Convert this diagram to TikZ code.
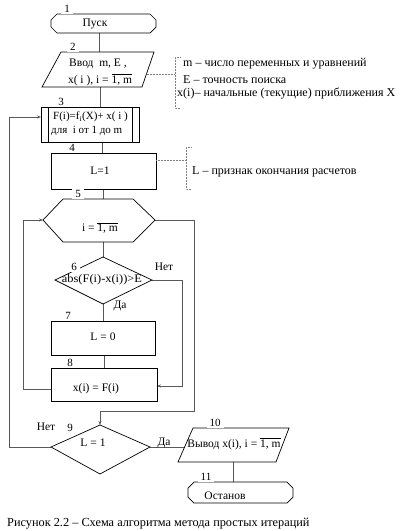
\documentclass[tikz,border=0pt]{standalone}
\usepackage{fontspec}
\setmainfont{Liberation Serif}
\usetikzlibrary{arrows.meta}
\begin{document}
\begin{tikzpicture}[x=1pt,y=-1pt,
  blk/.style={draw=black,line width=0.7pt},
  conn/.style={draw=black!65,line width=0.6pt},
  arr/.style={-{Stealth[length=4pt,width=3pt]}},
  note/.style={draw=black!50,line width=0.5pt,densely dotted},
  num/.style={fill=white,inner xsep=3pt,inner ysep=1.5pt,anchor=base,font=\fontsize{11}{12}\selectfont},
  txt/.style={inner sep=0pt,font=\fontsize{11.5}{13}\selectfont},
  ann/.style={inner sep=0pt,anchor=west,font=\fontsize{12}{14}\selectfont}]
\useasboundingbox (0,0) rectangle (405,531);
\fill[white] (0,0) rectangle (405,531);

% coordinates for connectors
\coordinate (b1s) at (99,33);   \coordinate (b2n) at (99,52);
\coordinate (b2s) at (100,87);  \coordinate (b3n) at (100,107);
\coordinate (b3s) at (102,142); \coordinate (b4n) at (102,153);
\coordinate (b4s) at (103,189); \coordinate (b5n) at (103,199);
\coordinate (b5s) at (103,242); \coordinate (b6n) at (103,257);
\coordinate (b6s) at (103,304); \coordinate (b7n) at (103,321);
\coordinate (b7s) at (104,355); \coordinate (b8n) at (104,368);
\coordinate (b8w) at (51,389);  \coordinate (b8e) at (157,386);
\coordinate (b5w) at (43,220);  \coordinate (b5e) at (155,220);
\coordinate (b6e) at (152,280);
\coordinate (b9n) at (100,425); \coordinate (b9w) at (51,447); \coordinate (b9e) at (150,447);
\coordinate (b3w) at (41,117);
\coordinate (b10w) at (184.6,447); \coordinate (b10s) at (233,462); \coordinate (b11n) at (233,482);
\coordinate (b2e) at (146.5,74); \coordinate (b4e) at (156,160);

% connectors
\draw[conn] (b1s) -- (b2n);
\draw[conn] (b2s) -- (b3n);
\draw[conn] (b3s) -- (b4n);
\draw[conn] (b4s) -- (b5n);
\draw[conn] (b5s) -- (b6n);
\draw[conn] (b6s) -- (b7n);
\draw[conn] (b7s) -- (b8n);
\draw[conn,arr] (b8w) -- (23,389) -- (23,220) -- (b5w);
\draw[conn,arr] (b5e) -- (194,220) -- (194,411) -- (100,411) -- (b9n);
\draw[conn,arr] (b6e) -- (182,280) -- (182,386) -- (b8e);
\draw[conn,arr] (b9w) -- (9,447) -- (9,117) -- (b3w);
\draw[conn] (b9e) -- (b10w);
\draw[conn] (b10s) -- (b11n);

% block 1
\draw[blk] (57,14) -- (150,14) -- (156,20) -- (156,27) -- (150,33) -- (57,33) -- (51,27) -- (51,20) -- cycle;
\node[txt] (t1) at (95,24) {Пуск};
\node[num] (n1) at (67,12.5) {1};
% block 2
\draw[blk] (61,52) -- (154,52) -- (142,87) -- (42,87) -- cycle;
\node[txt] (t2a) at (98,64) {Ввод\ \ m, E ,};
\node[txt] (t2b) at (100,80) {x( i ), i = $\overline{\mbox{1, m}}$};
\node[num] (n2) at (73,50.5) {2};
% block 3
\draw[blk] (41,107) rectangle (139,142);
\draw[blk] (48,107) -- (48,142);
\draw[blk] (132,107) -- (132,142);
\node[txt,anchor=west,font=\fontsize{11}{13}\selectfont] (t3a) at (53,117) {F(i)=f\textsubscript{i}(X)+ x( i )};
\node[txt,anchor=west,font=\fontsize{11}{13}\selectfont] (t3b) at (51,131) {для\ \ i от 1 до m};
\node[num] (n3) at (61,105.5) {3};
% block 4
\draw[blk] (51,153) rectangle (156,189);
\node[txt] (t4) at (100,171) {L=1};
\node[num] (n4) at (72,151.5) {4};
% block 5
\draw[blk] (43,220) -- (63,199) -- (133,199) -- (155,220) -- (133,242) -- (63,242) -- cycle;
\node[txt] (t5) at (100,228) {i = $\overline{\mbox{1, m}}$};
\node[num] (n5) at (78,197.5) {5};
% block 6
\draw[blk] (103,257) -- (152,280) -- (103,304) -- (55,280) -- cycle;
\node[txt] (t6) at (102,280) {\scalebox{1.08}[1]{abs(F(i)-x(i))>E}};
\node[num] (n6) at (74,270) {6};
\node[txt] (no6) at (164,267) {Нет};
\node[txt] (da6) at (120,306) {Да};
% block 7
\draw[blk] (51,321) rectangle (155,355);
\node[txt] (t7) at (103,337) {L = 0};
\node[num] (n7) at (68,319.5) {7};
% block 8
\draw[blk] (51,368) rectangle (157,401);
\node[txt] (t8) at (96,389) {x(i) = F(i)};
\node[num] (n8) at (70,366.5) {8};
% block 9
\draw[blk] (100,425) -- (150,447) -- (100,474) -- (51,447) -- cycle;
\node[txt] (t9) at (93,443) {L = 1};
\node[num] (n9) at (70,431) {9};
\node[txt] (no9) at (46,427) {Нет};
\node[txt] (da9) at (164,443) {Да};
% block 10
\draw[blk] (193,428) -- (289,428) -- (276,462) -- (178,462) -- cycle;
\node[txt] (t10) at (234,444) {Вывод x(i), i = $\overline{\mbox{1, m}}$};
\node[num] (n10) at (215,426.5) {10};
% block 11
\draw[blk] (194,482) -- (287,482) -- (293,488) -- (293,497) -- (287,503) -- (194,503) -- (188,497) -- (188,488) -- cycle;
\node[txt] (t11) at (225,496) {Останов};
\node[num] (n11) at (206,480.5) {11};

% annotation 1
\draw[note] (b2e) -- (175,74);
\draw[note] (180,57) -- (175,57) -- (175,108) -- (180,108);
\node[ann] (a1) at (183,64) {m – число переменных и уравнений};
\node[ann] (a2) at (183,80) {E – точность поиска};
\node[ann] (a3) at (177,93) {x(i)– начальные (текущие) приближения X};
% annotation 2
\draw[note] (b4e) -- (186,160);
\draw[note] (191,147) -- (186,147) -- (186,189) -- (191,189);
\node[ann] (a4) at (192,172) {L – признак окончания расчетов};

% caption
\node[ann] (cap) at (7,524) {\fontsize{12.3}{14}\selectfont Рисунок 2.2 – Схема алгоритма метода простых итераций};
\end{tikzpicture}
\end{document}
